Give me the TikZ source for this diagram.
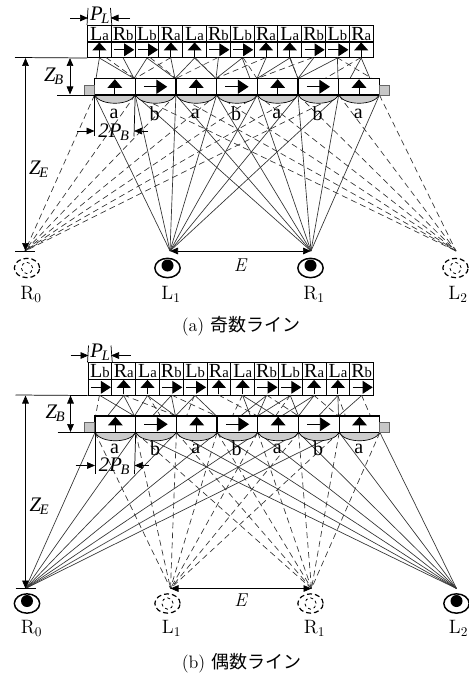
\documentclass[tikz,border=0pt]{standalone}
\usepackage{fontspec}
\usetikzlibrary{arrows.meta,shapes.geometric}
\newfontfamily\timesfont{Liberation Serif}
\newfontfamily\cjk{Noto Sans CJK JP}
\tikzset{
  ray/.style={line width=0.5pt,black!80},
  dray/.style={ray,dash pattern=on 4.5pt off 3pt},
  dimline/.style={line width=0.55pt,-{Triangle[length=6pt,width=5pt]}},
  dimboth/.style={line width=0.55pt,{Triangle[length=6pt,width=5pt]}-{Triangle[length=6pt,width=5pt]}},
  rule/.style={line width=0.55pt},
  celltext/.style={draw,line width=0.7pt,fill=white,minimum width=17.85pt,minimum height=12.4pt,inner sep=0pt,font=\timesfont},
  cellarrow/.style={draw,line width=0.7pt,fill=white,minimum width=17.85pt,minimum height=11.6pt,inner sep=0pt},
  slit/.style={draw,line width=0.9pt,fill=white,minimum width=30.5pt,minimum height=12.4pt,inner sep=0pt},
  tab/.style={draw=black!60,line width=0.4pt,fill=black!22,minimum width=7.5pt,minimum height=7.5pt,inner sep=0pt},
  lens/.style={draw,line width=0.5pt,fill=black!20},
  uparr/.style={line width=0.7pt,-{Triangle[length=6pt,width=10.5pt]},shorten <=0.8pt,shorten >=0.6pt},
  rightarr/.style={line width=0.7pt,-{Triangle[length=7.5pt,width=9.5pt]},shorten <=2.5pt,shorten >=1pt},
  bigup/.style={line width=0.7pt,-{Triangle[length=6.5pt,width=11pt]},shorten <=0.8pt,shorten >=1pt},
  bigright/.style={line width=0.7pt,-{Triangle[length=8pt,width=10.5pt]},shorten <=7pt,shorten >=7pt},
  eyeball/.style={draw,ellipse,line width=1.1pt,minimum width=19pt,minimum height=14.5pt,inner sep=0pt},
  pupil/.style={circle,fill=black,minimum size=9pt,inner sep=0pt},
  deye/.style={eyeball,line width=0.9pt,dash pattern=on 3.8pt off 2.2pt},
  dpupil/.style={draw,circle,line width=0.6pt,dash pattern=on 2.2pt off 2.2pt,minimum size=8.5pt,inner sep=0pt},
  eyename/.style={font=\fontsize{14.5}{15}\selectfont},
  dimname/.style={font=\timesfont\itshape\fontsize{15.5}{16}\selectfont,inner sep=0pt},
  lensname/.style={font=\timesfont\fontsize{15}{15}\selectfont,inner sep=0pt},
  caption/.style={font=\fontsize{13.5}{14}\selectfont}
}
\newcommand{\celllab}[2]{\fontsize{15}{15}\selectfont #1\fontsize{11}{11}\selectfont #2}
\begin{document}
\begin{tikzpicture}[x=0.75pt,y=-0.75pt]
\useasboundingbox (0,0) rectangle (468,677);
% odd lines
\begin{scope}[name prefix=a-]
  \foreach \k in {0,...,7} {
    \coordinate (k\k) at ({94.5+40.7*\k},95);
    \coordinate (t\k) at ({94.5+40.7*\k},78.5);
  }
  \coordinate (eR0) at (25,251); \coordinate (eL1) at (170,251);
  \coordinate (eR1) at (311,251); \coordinate (eL2) at (456,251);
  % rays to the viewing points
  \foreach \k in {0,...,6} { \draw[ray] (k\k) -- (eL1); \draw[dray] (k\k) -- (eR0); }
  \foreach \k in {1,...,7} { \draw[ray] (k\k) -- (eR1); \draw[dray] (k\k) -- (eL2); }
  \foreach \k [evaluate=\k as \n using int(\k+1)] in {0,...,6}
    \draw[lens] (k\k) .. controls +(6,11) and +(-6,11) .. (k\n) -- cycle;
  % panel cells
  \foreach \j/\t/\s in {0/L/a,1/R/b,2/L/b,3/R/a,4/L/a,5/R/b,6/L/b,7/R/a,8/L/a,9/R/b,10/L/b,11/R/a} {
    \node[celltext] (l\j) at ({87.5+23.8*(\j+.5)},33.7) {\celllab{\t}{\s}};
    \node[cellarrow] (c\j) at ({87.5+23.8*(\j+.5)},49.8) {};
  }
  \foreach \j in {0,3,4,7,8,11} \draw[uparr] (c\j.south) -- (c\j.north);
  \foreach \j in {1,2,5,6,9,10} \draw[rightarr] (c\j.west) -- (c\j.east);
  % cell to slit
  \foreach \j/\x in {0/96,0/134,1/134,2/134,2/175,3/175,4/175,4/216,5/216,6/216,6/250,7/257,8/257,8/298,9/298,10/298,10/338,11/350,11/370} {
    \coordinate (e) at (\x,78.5);
    \draw[ray] (c\j.south) -- (e);
  }
  \foreach \xa/\xb in {106/135,150/176,171/135,195/216,218/176,243/257,266/216,290/298,313/257,337/372,361/325} {
    \coordinate (s) at (\xa,57.5); \coordinate (e) at (\xb,78.5);
    \draw[dray] (s) -- (e);
  }
  % slits
  \foreach \i in {0,...,6} \node[slit] (b\i) at ({94.5+40.7*(\i+.5)},86.75) {};
  \foreach \i in {0,2,4,6} \draw[bigup] (b\i.south) -- (b\i.north);
  \foreach \i in {1,3,5} \draw[bigright] (b\i.west) -- (b\i.east);
  \node[tab] (tabl) at (89,90) {}; \node[tab] (tabr) at (384,90) {};
  \foreach \i/\t in {0/a,1/b,2/a,3/b,4/a,5/b,6/a} \node[lensname] (n\i) at ({114+40.7*\i},114) {\t};
  % dimensions
  \coordinate (pa) at (88,8); \coordinate (pb) at (110.5,8);
  \draw[rule] (l0.north west) -- (pa); \draw[rule] (l0.north east) -- (pb);
  \coordinate (pc) at (70,18); \coordinate (pd) at (88,18); \coordinate (pe) at (130,18); \coordinate (pf) at (110.5,18);
  \draw[dimline] (pc) -- (pd); \draw[dimline] (pe) -- (pf);
  \node[dimname] (pl) at (100,15) {P\textsubscript{\kern-1pt L}};
  \coordinate (za) at (15,57.5); \coordinate (zb) at (57,95); \coordinate (zc) at (15,251); \coordinate (zd) at (35,251);
  \draw[rule] (za) -- (c0.south west); \draw[rule] (zb) -- (k0); \draw[rule] (zc) -- (zd);
  \coordinate (ba) at (70,58); \coordinate (bb) at (70,94.5); \draw[dimboth] (ba) -- (bb);
  \coordinate (ea) at (25.5,58); \coordinate (eb) at (25.5,251); \draw[dimboth] (ea) -- (eb);
  \node[dimname] (zbl) at (54,76) {Z\textsubscript{\kern-1pt B}};
  \node[dimname] (zel) at (39,169) {Z\textsubscript{\kern-1pt E}};
  \draw[dimboth] (eL1) -- (eR1);
  \node[font=\itshape\fontsize{14}{14}\selectfont] (el) at (240,265) {E};
  \coordinate (ga) at (94.5,136.5); \coordinate (gb) at (134,136.5);
  \draw[rule] (k0) -- (ga); \draw[rule] (k1) -- (gb);
  \coordinate (gc) at (77,131); \coordinate (gd) at (94.5,131); \coordinate (ge) at (148,131); \coordinate (gf) at (134,131);
  \draw[dimline] (gc) -- (gd); \draw[dimline] (ge) -- (gf);
  \node[dimname] (gl) at (114,132) {2P\textsubscript{\kern-1pt B}};
  % eyes
  \node[deye] (y0) at (27,268) {}; \node[dpupil] at (y0) {};
  \node[eyeball] (y1) at (167.5,268) {}; \node[pupil] at (167.5,265.5) {};
  \node[eyeball] (y2) at (310.5,268) {}; \node[pupil] at (310.5,265.5) {};
  \node[deye] (y3) at (455.5,268) {}; \node[dpupil] at (y3) {};
  \node[eyename] (m0) at (31,294) {R$_0$}; \node[eyename] (m1) at (171,294) {L$_1$};
  \node[eyename] (m2) at (314,294) {R$_1$}; \node[eyename] (m3) at (458,294) {L$_2$};
  \node[caption] (cap) at (241,326) {(a) {\cjk 奇数ライン}};
\end{scope}
% even lines
\begin{scope}[name prefix=b-,shift={(0.5,337.5)}]
  \foreach \k in {0,...,7} {
    \coordinate (k\k) at ({94.5+40.7*\k},95);
    \coordinate (t\k) at ({94.5+40.7*\k},78.5);
  }
  \coordinate (eR0) at (25,251); \coordinate (eL1) at (170,251);
  \coordinate (eR1) at (311,251); \coordinate (eL2) at (456,251);
  % rays to the viewing points
  \foreach \k in {0,...,6} { \draw[dray] (k\k) -- (eL1); \draw[ray] (k\k) -- (eR0); }
  \foreach \k in {1,...,7} { \draw[dray] (k\k) -- (eR1); \draw[ray] (k\k) -- (eL2); }
  \foreach \k [evaluate=\k as \n using int(\k+1)] in {0,...,6}
    \draw[lens] (k\k) .. controls +(6,11) and +(-6,11) .. (k\n) -- cycle;
  % panel cells
  \foreach \j/\t/\s in {0/L/b,1/R/a,2/L/a,3/R/b,4/L/b,5/R/a,6/L/a,7/R/b,8/L/b,9/R/a,10/L/a,11/R/b} {
    \node[celltext] (l\j) at ({87.5+23.8*(\j+.5)},33.7) {\celllab{\t}{\s}};
    \node[cellarrow] (c\j) at ({87.5+23.8*(\j+.5)},49.8) {};
  }
  \foreach \j in {1,2,5,6,9,10} \draw[uparr] (c\j.south) -- (c\j.north);
  \foreach \j in {0,3,4,7,8,11} \draw[rightarr] (c\j.west) -- (c\j.east);
  % cell to slit
  \foreach \j/\x in {0/134,1/107,1/134,2/134,2/175,3/152,3/175,4/175,4/216,6/250,6/275,7/240,7/257,8/257,8/298,9/281,9/298,10/318,10/338,11/338} {
    \coordinate (e) at (\x,78.5);
    \draw[ray] (c\j.south) -- (e);
  }
  \foreach \xa/\xb in {99/95,123/176,147/160,171/216,194/186,218/257,242/232,266/298,290/275,313/338,337/345,361/370} {
    \coordinate (s) at (\xa,57.5); \coordinate (e) at (\xb,78.5);
    \draw[dray] (s) -- (e);
  }
  % slits
  \foreach \i in {0,...,6} \node[slit] (b\i) at ({94.5+40.7*(\i+.5)},86.75) {};
  \foreach \i in {0,2,4,6} \draw[bigup] (b\i.south) -- (b\i.north);
  \foreach \i in {1,3,5} \draw[bigright] (b\i.west) -- (b\i.east);
  \node[tab] (tabl) at (89,90) {}; \node[tab] (tabr) at (384,90) {};
  \foreach \i/\t in {0/a,1/b,2/a,3/b,4/a,5/b,6/a} \node[lensname] (n\i) at ({114+40.7*\i},111) {\t};
  % dimensions
  \coordinate (pa) at (88,8); \coordinate (pb) at (110.5,8);
  \draw[rule] (l0.north west) -- (pa); \draw[rule] (l0.north east) -- (pb);
  \coordinate (pc) at (70,18); \coordinate (pd) at (88,18); \coordinate (pe) at (130,18); \coordinate (pf) at (110.5,18);
  \draw[dimline] (pc) -- (pd); \draw[dimline] (pe) -- (pf);
  \node[dimname] (pl) at (100,15) {P\textsubscript{\kern-1pt L}};
  \coordinate (za) at (15,57.5); \coordinate (zb) at (57,95); \coordinate (zc) at (15,251); \coordinate (zd) at (35,251);
  \draw[rule] (za) -- (c0.south west); \draw[rule] (zb) -- (k0); \draw[rule] (zc) -- (zd);
  \coordinate (ba) at (70,58); \coordinate (bb) at (70,94.5); \draw[dimboth] (ba) -- (bb);
  \coordinate (ea) at (25,58); \coordinate (eb) at (25,251); \draw[dimboth] (ea) -- (eb);
  \node[dimname] (zbl) at (55,76) {Z\textsubscript{\kern-1pt B}};
  \node[dimname] (zel) at (39,169) {Z\textsubscript{\kern-1pt E}};
  \draw[dimboth] (eL1) -- (eR1);
  \node[font=\itshape\fontsize{14}{14}\selectfont] (el) at (240,263) {E};
  \coordinate (ga) at (94.5,136.5); \coordinate (gb) at (134,136.5);
  \draw[rule] (k0) -- (ga); \draw[rule] (k1) -- (gb);
  \coordinate (gc) at (75,128); \coordinate (gd) at (94.5,128); \coordinate (ge) at (148,128); \coordinate (gf) at (134,128);
  \draw[dimline] (gc) -- (gd); \draw[dimline] (ge) -- (gf);
  \node[dimname] (gl) at (114,129) {2P\textsubscript{\kern-1pt B}};
  % eyes
  \node[eyeball] (y0) at (26.5,266) {}; \node[pupil] at (26.5,263.5) {};
  \node[deye] (y1) at (167,266) {}; \node[dpupil] at (y1) {};
  \node[deye] (y2) at (310,266) {}; \node[dpupil] at (y2) {};
  \node[eyeball] (y3) at (456,266) {}; \node[pupil] at (456,263.5) {};
  \node[eyename] (m0) at (31,291) {R$_0$}; \node[eyename] (m1) at (171,291) {L$_1$};
  \node[eyename] (m2) at (314,291) {R$_1$}; \node[eyename] (m3) at (458,291) {L$_2$};
  \node[caption] (cap) at (241,325.5) {(b) {\cjk 偶数ライン}};
\end{scope}
\end{tikzpicture}
\end{document}
